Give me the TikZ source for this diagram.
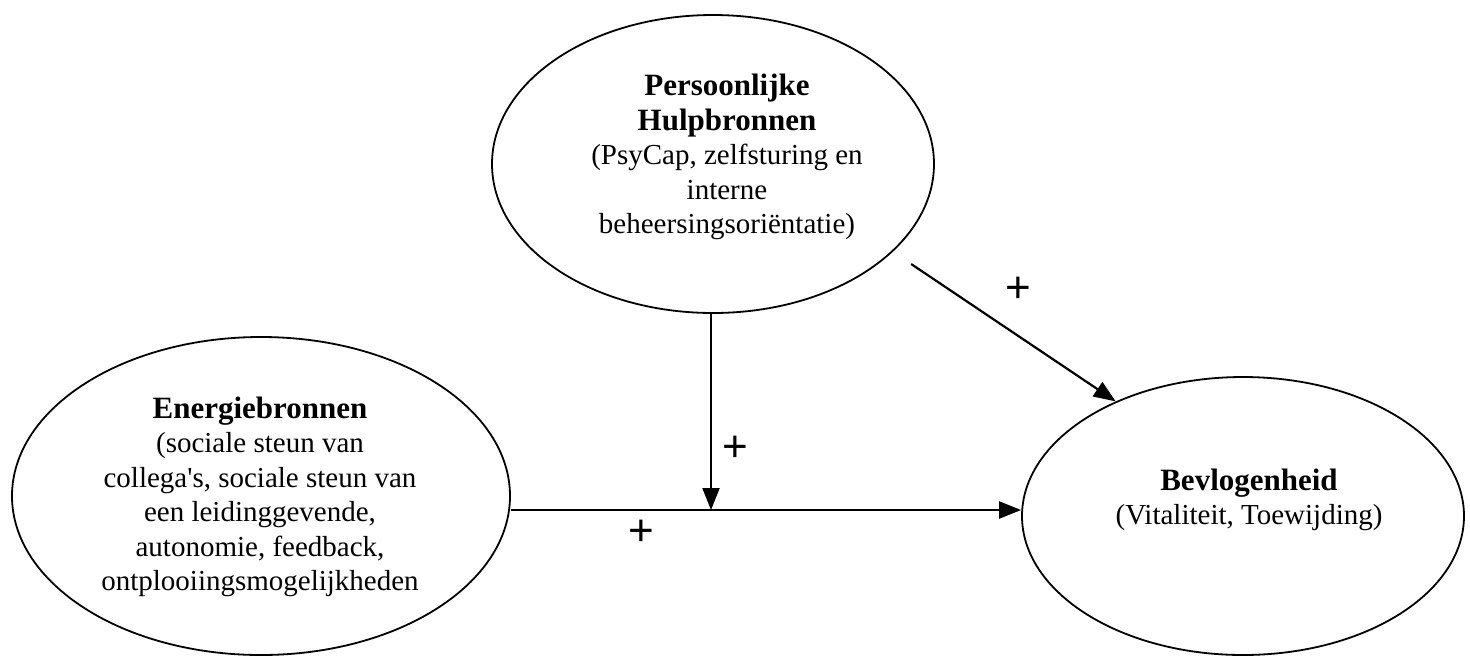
\documentclass[tikz,border=0pt]{standalone}
\usepackage{fontspec}
\setmainfont{Liberation Serif}
\newfontfamily\plusfont{Liberation Sans}
\usetikzlibrary{shapes.geometric,arrows.meta}

\tikzset{
  construct/.style={ellipse, draw, line width=1.8pt, inner sep=0pt},
  caption/.style={align=center, font=\fontsize{29}{34.5}\selectfont},
  effect/.style={line width=2.2pt, -{Triangle[length=22pt,width=17pt]}},
  sign/.style={font=\plusfont\fontsize{44}{44}\selectfont}
}
\newcommand\hdr[1]{{\fontsize{31}{35}\selectfont\bfseries #1}}

\begin{document}
\begin{tikzpicture}[x=1pt,y=-1pt]
      \useasboundingbox (0,0) rectangle (1470,657);

      % the three constructs
      \node[construct, minimum width=498pt, minimum height=318pt] (energie) at (261,496) {};
      \node[construct, minimum width=442pt, minimum height=298pt] (persoon) at (713,164) {};
      \node[construct, minimum width=442pt, minimum height=278pt] (bevlog) at (1243,516) {};

      \node[caption] (energietxt) at (260,497) {\hdr{Energiebronnen}\\(sociale steun van\\collega\textquotesingle s, sociale steun van\\een leidinggevende,\\autonomie, feedback,\\ontplooiingsmogelijkheden};
      \node[caption] (persoontxt) at (727,157) {\hdr{Persoonlijke}\\\hdr{Hulpbronnen}\\(PsyCap, zelfsturing en\\interne\\beheersingsoriëntatie)};
      \node[caption] (bevlogtxt) at (1249,500) {\hdr{Bevlogenheid}\\(Vitaliteit, Toewijding)};

      % paths
      \coordinate (jn) at (711,510);
      \draw[effect] (energie.east |- jn) -- (bevlog.west |- jn);
      \draw[effect] (persoon.south -| jn) -- (jn);
      \draw[effect, shorten <=22pt] (persoon.-26) -- (bevlog.138);

      \node[sign] (plusdirect) at (641,533) {+};
      \node[sign] (plusmod) at (735,449) {+};
      \node[sign] (pluspers) at (1018,290) {+};
\end{tikzpicture}
\end{document}
